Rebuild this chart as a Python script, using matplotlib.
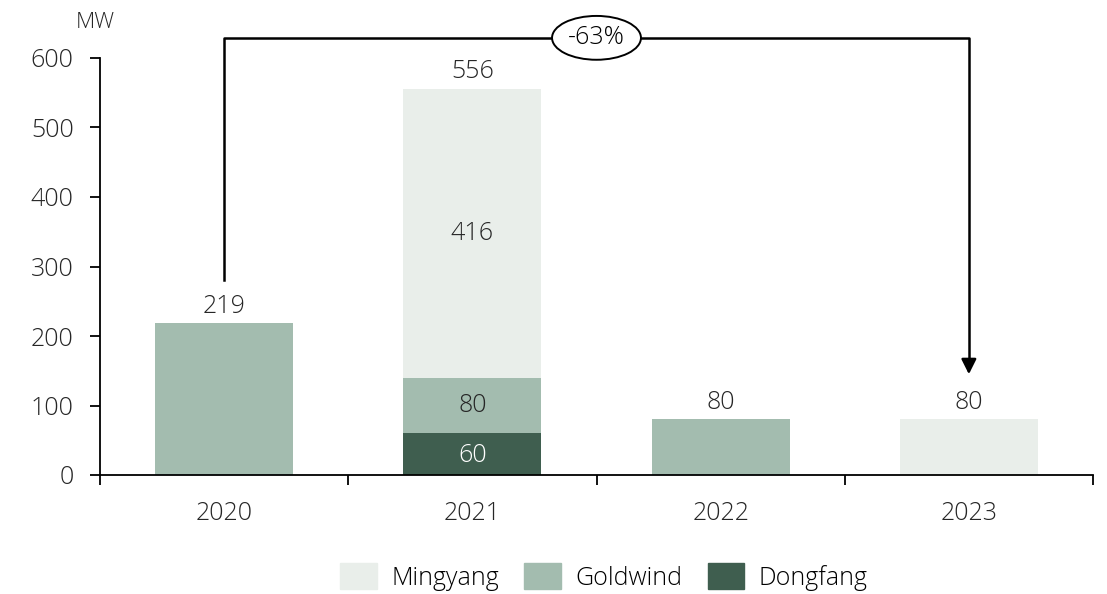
import numpy as np
import matplotlib.pyplot as plt
from matplotlib.patches import Patch

years = ["2020", "2021", "2022", "2023"]
dongfang = [0, 60, 0, 0]
goldwind = [219, 80, 80, 0]
mingyang = [0, 416, 0, 80]
totals = [219, 556, 80, 80]
change_label = "-63%"

c_ming = "#E9EEEA"
c_gold = "#A3BCAF"
c_dong = "#3F5E4F"
txt = "#262626"

plt.rcParams["font.family"] = ["Open Sans", "DejaVu Sans"]
plt.rcParams["font.weight"] = "light"

fig = plt.figure(figsize=(11.07, 5.94), dpi=100)
ax = fig.add_axes([100 / 1107, 1 - 475 / 594, 993 / 1107, 417 / 594])

x = np.arange(len(years))
w = 0.555
dong = np.array(dongfang)
gold = np.array(goldwind)
ming = np.array(mingyang)
ax.bar(x, dong, w, color=c_dong, label="Dongfang")
ax.bar(x, gold, w, bottom=dong, color=c_gold, label="Goldwind")
ax.bar(x, ming, w, bottom=dong + gold, color=c_ming, label="Mingyang")

# labels
fs = 18
for i, t in enumerate(totals):
    ax.text(x[i], t + 6, str(t), ha="center", va="bottom", fontsize=fs, color=txt)
ax.text(1, dong[1] / 2 - 2, str(dongfang[1]), ha="center", va="center", fontsize=fs, color="white")
ax.text(1, dong[1] + gold[1] / 2, str(goldwind[1]), ha="center", va="center", fontsize=fs, color=txt)
ax.text(1, dong[1] + gold[1] + ming[1] / 2, str(mingyang[1]), ha="center", va="center", fontsize=fs, color=txt)

# change arrow
ytop = 629
ax.plot([0, 0, 3, 3], [280, ytop, ytop, 165], color="black", lw=1.8, clip_on=False)
ax.annotate("", xy=(3, 141), xytext=(3, 170),
            arrowprops=dict(arrowstyle="-|>,head_length=0.9,head_width=0.45", color="black", lw=1.8),
            annotation_clip=False)
ax.text(1.5, ytop, change_label, ha="center", va="center", fontsize=fs, color="black",
        bbox=dict(boxstyle="ellipse,pad=0.12", fc="white", ec="black", lw=1.4))

ax.set_xlim(-0.5, 3.5)
ax.set_ylim(0, 600)
ax.set_yticks([0, 100, 200, 300, 400, 500, 600])
ax.set_xticks(x)
ax.set_xticklabels(years)
ax.set_xticks([-0.5, 0.5, 1.5, 2.5, 3.5], minor=True)
ax.tick_params(axis="x", which="major", length=0, pad=19, labelsize=fs, labelcolor=txt)
ax.tick_params(axis="x", which="minor", length=7, width=1.3, direction="out")
ax.tick_params(axis="y", length=7, width=1.3, labelsize=fs, labelcolor=txt, pad=12)
for s in ["top", "right"]:
    ax.spines[s].set_visible(False)
ax.spines["left"].set_linewidth(1.3)
ax.spines["bottom"].set_linewidth(1.3)

fig.text(76 / 1107, 1 - 22 / 594, "MW", ha="left", va="center", fontsize=16, color=txt)

handles = [Patch(color=c_ming, label="Mingyang"), Patch(color=c_gold, label="Goldwind"),
           Patch(color=c_dong, label="Dongfang")]
fig.legend(handles=handles, loc="center", bbox_to_anchor=(604 / 1107, 1 - 577 / 594), ncol=3,
           frameon=False, fontsize=fs, handlelength=1.45, handleheight=1.2, columnspacing=1.0,
           handletextpad=0.6)

fig.savefig("out.png", dpi=100)
